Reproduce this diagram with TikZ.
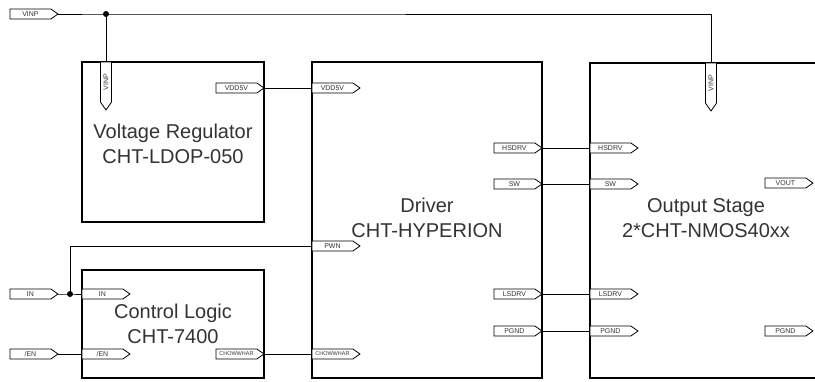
\documentclass[tikz,border=0pt]{standalone}
\usepackage{fontspec}
\setmainfont{Liberation Sans}
\usetikzlibrary{shapes.symbols}
\begin{document}
\begin{tikzpicture}[x=1pt,y=-1pt,
  port/.style={shape=signal, signal to=east, signal pointer angle=70, draw, line width=0.8pt,
    minimum width=48pt, minimum height=10pt, inner sep=0pt, outer sep=0pt,
    font=\fontsize{7}{8}\selectfont, fill=white, text=black!80},
  vport/.style={port, rotate=90, signal to=west, minimum height=11pt},
  blk/.style={draw, line width=1.8pt, inner sep=0pt, outer sep=0pt},
  wire/.style={line width=1pt},
  title/.style={font=\fontsize{20}{25}\selectfont, align=center, text=black!80},
  junc/.style={circle, fill, inner sep=0pt, minimum size=6pt}]
\clip (0,0) rectangle (815,381);
\fill[white] (0,0) rectangle (815,381);
% blocks
\node[blk, minimum width=182pt, minimum height=160pt, anchor=north west] (reg) at (82,62) {};
\node[blk, minimum width=230pt, minimum height=316pt, anchor=north west] (drv) at (312,62) {};
\node[blk, minimum width=240pt, minimum height=315pt, anchor=north west] (out) at (590,63) {};
\node[blk, minimum width=182pt, minimum height=108pt, anchor=north west] (ctl) at (82,270) {};
% titles
\node[title] (treg) at (173,143.5) {Voltage Regulator\\CHT-LDOP-050};
\node[title] (tdrv) at (427,218) {Driver\\CHT-HYPERION};
\node[title] (tout) at (706,218) {Output Stage\\2*CHT-NMOS40xx};
\node[title] (tctl) at (173,324) {Control Logic\\CHT-7400};
% external ports
\node[port, anchor=west] (xvinp) at (10,14) {VINP};
\node[port, anchor=west] (xin) at (10,294) {IN};
\node[port, anchor=west] (xen) at (10,354) {/EN};
% regulator ports
\node[vport, anchor=east] (rvinp) at (106,62) {VINP};
\node[port, anchor=east] (rvdd) at (264,88) {VDD5V};
% driver ports
\node[port, anchor=west] (dvdd) at (312,88) {VDD5V};
\node[port, anchor=west] (dpwn) at (312,246) {PWN};
\node[port, anchor=west, font=\fontsize{5.5}{6}\selectfont] (dchw) at (312,354) {CHOWWHAR};
\node[port, anchor=east] (dhs) at (542,148) {HSDRV};
\node[port, anchor=east] (dsw) at (542,184) {SW};
\node[port, anchor=east] (dls) at (542,294) {LSDRV};
\node[port, anchor=east] (dpg) at (542,331) {PGND};
% output ports
\node[vport, anchor=east] (ovinp) at (711,63) {VINP};
\node[port, anchor=west] (ohs) at (590,148) {HSDRV};
\node[port, anchor=west] (osw) at (590,184) {SW};
\node[port, anchor=west] (ols) at (590,294) {LSDRV};
\node[port, anchor=west] (opg) at (590,331) {PGND};
\node[port, anchor=east] (ovout) at (813,183) {VOUT};
\node[port, anchor=east] (opgnd) at (813,331) {PGND};
% control ports
\node[port, anchor=west] (cin) at (82,294) {IN};
\node[port, anchor=west] (cen) at (82,354) {/EN};
\node[port, anchor=east, font=\fontsize{5.5}{6}\selectfont] (cchw) at (264,354) {CHOWWHAR};
% junctions
\node[junc] (j1) at (106,14) {};
\node[junc] (j2) at (70,294) {};
% wires
\draw[wire] (xvinp.east) -- (j1.center) -| (ovinp.east);
\draw[wire] (j1.center) -- (rvinp.east);
\draw[wire] (rvdd.east) -- (dvdd.west);
\draw[wire] (xin.east) -- (j2.center) -- (cin.west);
\draw[wire] (j2.center) |- (dpwn.west);
\draw[wire] (xen.east) -- (cen.west);
\draw[wire] (cchw.east) -- (dchw.west);
\draw[wire] (dhs.east) -- (ohs.west);
\draw[wire] (dsw.east) -- (osw.west);
\draw[wire] (dls.east) -- (ols.west);
\draw[wire] (dpg.east) -- (opg.west);
\end{tikzpicture}
\end{document}
